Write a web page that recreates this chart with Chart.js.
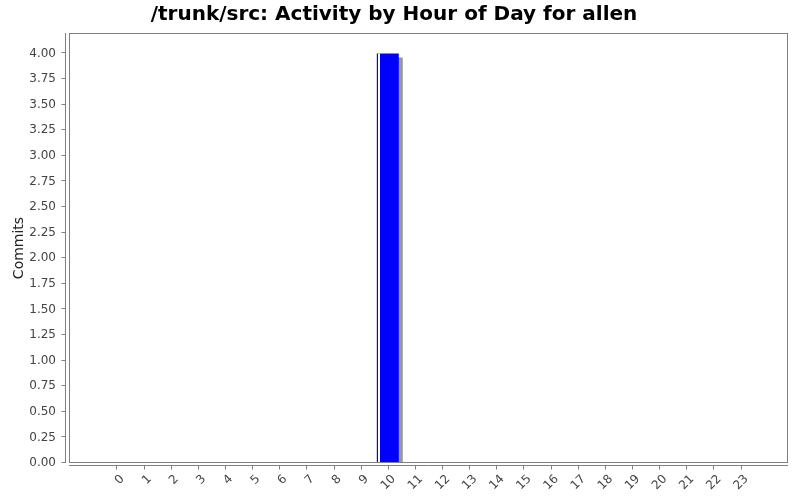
<!DOCTYPE html>
<html>
<head>
<meta charset="utf-8">
<script src="https://cdn.jsdelivr.net/npm/chart.js@4.4.0/dist/chart.umd.min.js"></script>
<style>
  html, body { margin: 0; padding: 0; background: #fff; }
  #wrap { width: 800px; height: 500px; }
</style>
</head>
<body>
<div id="wrap"><canvas id="chart"></canvas></div>
<script>
const hourLabels = ['0', '1', '2', '3', '4', '5', '6', '7', '8', '9', '10', '11',
    '12', '13', '14', '15', '16', '17', '18', '19', '20', '21', '22', '23'];
const commits = [0, 0, 0, 0, 0, 0, 0, 0, 0, 0, 4, 0, 0, 0, 0, 0, 0, 0, 0, 0, 0, 0, 0, 0];
const yTickMax = 4;
const yStep = 0.25;

const AXIS_GRAY = '#808080';

// plot frame, offset axis lines, tick marks, bar shadow
const jfreePlugin = {
    id: 'jfree',
    beforeDatasetsDraw(chart) {
        const ctx = chart.ctx;
        const meta = chart.getDatasetMeta(0);
        ctx.save();
        ctx.fillStyle = '#999999';
        meta.data.forEach(bar => {
            const h = bar.base - bar.y;
            if (h <= 0) return;
            ctx.fillRect(bar.x - bar.width / 2 + 4, bar.y + 4, bar.width, h - 4);
        });
        ctx.restore();
    },
    afterDatasetsDraw(chart) {
        const ctx = chart.ctx;
        const meta = chart.getDatasetMeta(0);
        ctx.save();
        ctx.fillStyle = '#ffffff';
        meta.data.forEach(bar => {
            const h = bar.base - bar.y;
            if (h <= 0) return;
            ctx.fillRect(Math.round(bar.x - bar.width / 2) + 1, bar.y, 2, h);
        });
        ctx.restore();
    },
    afterDraw(chart) {
        const ctx = chart.ctx;
        const a = chart.chartArea;
        const xs = chart.scales.x;
        const ys = chart.scales.y;
        ctx.save();
        ctx.strokeStyle = AXIS_GRAY;
        ctx.lineWidth = 1;
        ctx.strokeRect(Math.round(a.left) + 0.5, Math.round(a.top) + 0.5,
            Math.round(a.right - a.left) - 1, Math.round(a.bottom - a.top) - 1);

        const yx = Math.round(a.left) - 3.5;
        const xy = Math.round(a.bottom) + 2.5;
        ctx.beginPath();
        ctx.moveTo(yx, a.top);
        ctx.lineTo(yx, a.bottom);
        ctx.moveTo(a.left, xy);
        ctx.lineTo(a.right, xy);
        ys.ticks.forEach(t => {
            const py = Math.round(ys.getPixelForValue(t.value)) - 0.5;
            ctx.moveTo(yx - 4, py);
            ctx.lineTo(yx, py);
        });
        xs.ticks.forEach(t => {
            const px = Math.round(xs.getPixelForValue(t.value)) + 0.5;
            ctx.moveTo(px, xy);
            ctx.lineTo(px, xy + 4);
        });
        ctx.stroke();
        ctx.restore();
    }
};

new Chart(document.getElementById('chart'), {
    type: 'bar',
    data: {
        datasets: [{
            label: 'Commits',
            data: hourLabels.map((h, i) => ({ x: i, y: commits[i] })),
            backgroundColor: '#0000ff',
            borderWidth: 0,
            barPercentage: 0.81,
            categoryPercentage: 1.0
        }]
    },
    options: {
        responsive: true,
        maintainAspectRatio: false,
        animation: false,
        layout: { padding: { left: 0, right: 12, top: 0, bottom: 0 } },
        plugins: {
            legend: { display: false },
            tooltip: { enabled: false },
            title: {
                display: true,
                text: '/trunk/src: Activity by Hour of Day for allen',
                color: '#000',
                font: { family: 'DejaVu Sans', size: 20, weight: 'bold' },
                padding: { top: 3, bottom: 6 }
            }
        },
        scales: {
            x: {
                type: 'linear',
                offset: false,
                min: -1.75,
                max: 24.75,
                grid: { display: false, offset: false, drawTicks: false },
                border: { display: false },
                afterBuildTicks(scale) {
                    scale.ticks = scale.ticks.filter(t =>
                        Number.isInteger(t.value) && t.value >= 0 && t.value < hourLabels.length);
                },
                afterFit(scale) { scale.height = 37; },
                ticks: {
                    stepSize: 1,
                    autoSkip: false,
                    maxRotation: 45,
                    minRotation: 45,
                    padding: 9,
                    labelOffset: 6,
                    color: '#444',
                    font: { family: 'DejaVu Sans', size: 12 },
                    callback: v => hourLabels[v]
                }
            },
            y: {
                min: 0,
                max: 4.2,
                grid: { display: false, drawTicks: false },
                border: { display: false },
                afterBuildTicks(scale) {
                    scale.ticks = scale.ticks.filter(t => t.value <= yTickMax + 1e-9);
                },
                afterFit(scale) { scale.width = 69; },
                title: {
                    display: true,
                    text: 'Commits',
                    color: '#222',
                    font: { family: 'DejaVu Sans', size: 14 },
                    padding: { top: 11, bottom: 4 }
                },
                ticks: {
                    stepSize: yStep,
                    padding: 13,
                    color: '#444',
                    font: { family: 'DejaVu Sans', size: 12 },
                    callback: v => v.toFixed(2)
                }
            }
        }
    },
    plugins: [jfreePlugin]
});
</script>
</body>
</html>
